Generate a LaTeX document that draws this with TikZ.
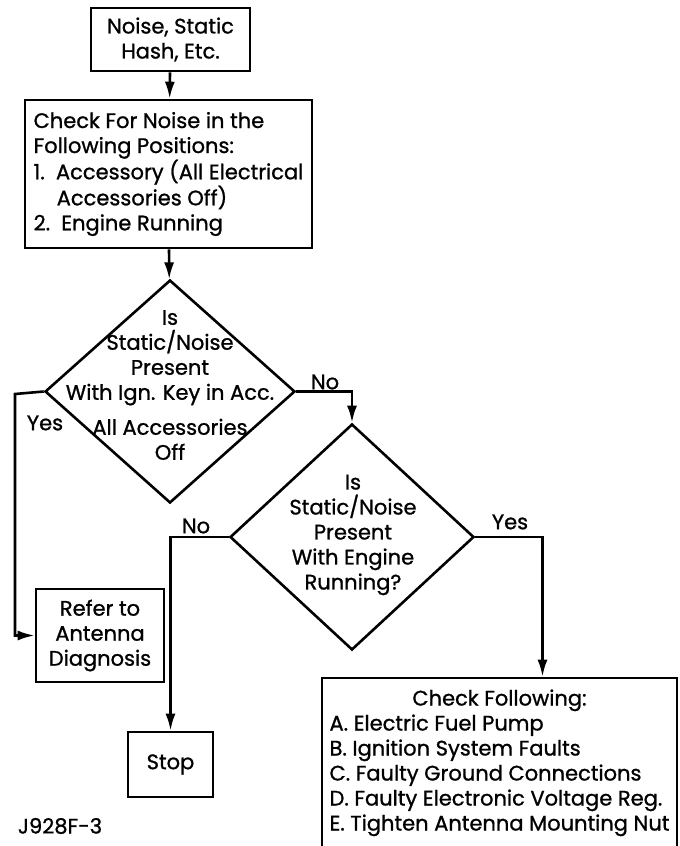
\documentclass[tikz,border=0pt]{standalone}
\usepackage{fontspec}
\setmainfont{Poppins}[FakeBold=1]
\usetikzlibrary{positioning,shapes.geometric,arrows.meta}

\begin{document}
\begin{tikzpicture}[x=1pt,y=-1pt,line width=2.6pt,
    font=\fontsize{21}{25}\selectfont,
    box/.style={draw,rectangle,inner sep=0pt},
    decision/.style={draw,diamond,inner sep=0pt},
    arr/.style={-{Latex[length=17pt,width=10pt]}}]

\useasboundingbox (0,0) rectangle (680,846);

\node[box,minimum width=159,minimum height=63,align=center] (start) at (170.5,39.5) {Noise, Static\\Hash, Etc.};
\node[box,minimum width=287,minimum height=148,align=left] (positions) at (168.5,174)
    {Check For Noise in the\\Following Positions:\\1.\ \ Accessory (All Electrical\\\hspace*{1.1em}Accessories Off)\\2.\ \ Engine Running};

\node[decision,minimum width=250,minimum height=223] (acc) at (170,391.5) {};
\node[align=center] (acctext) at (170,385) {Is\\Static/Noise\\Present\\With Ign. Key in Acc.\\[10pt]All Accessories\\Off};

\node[decision,minimum width=244,minimum height=226] (engine) at (352,537) {};
\node[align=center] (enginetext) at (353,535) {Is\\Static/Noise\\Present\\With Engine\\Running?};

\node[box,minimum width=128,minimum height=93,align=center] (antenna) at (100,635.5) {Refer to\\Antenna\\Diagnosis};
\node[box,minimum width=85,minimum height=65] (stop) at (170.5,764.5) {Stop};
\node[box,minimum width=355,minimum height=170] (check) at (499.5,763) {%
    \begin{tabular}{@{}l@{}}
    \multicolumn{1}{@{}c@{}}{Check Following:}\\
    A. Electric Fuel Pump\\
    B. Ignition System Faults\\
    C. Faulty Ground Connections\\
    D. Faulty Electronic Voltage Reg.\\
    E. Tighten Antenna Mounting Nut
    \end{tabular}};

\node (code) at (60,826) {J928F-3};

\draw[arr] (start) -- (positions);
\draw[arr] (positions) -- (acc);

% key in accessory
\coordinate (yescorner) at (15,394);
\draw[arr] (acc.west) -- (yescorner) |- (antenna.west);
\node (yes1) at (45,423) {Yes};
\draw[arr] (acc.east) -| (engine.north);
\node (no1) at (325,382) {No};

% engine running
\draw[arr] (engine.west) -| (stop.north);
\node (no2) at (196,526) {No};
\draw[arr] (engine.east) -| ([xshift=43pt]check.north);
\node (yes2) at (510,522) {Yes};

\end{tikzpicture}
\end{document}
